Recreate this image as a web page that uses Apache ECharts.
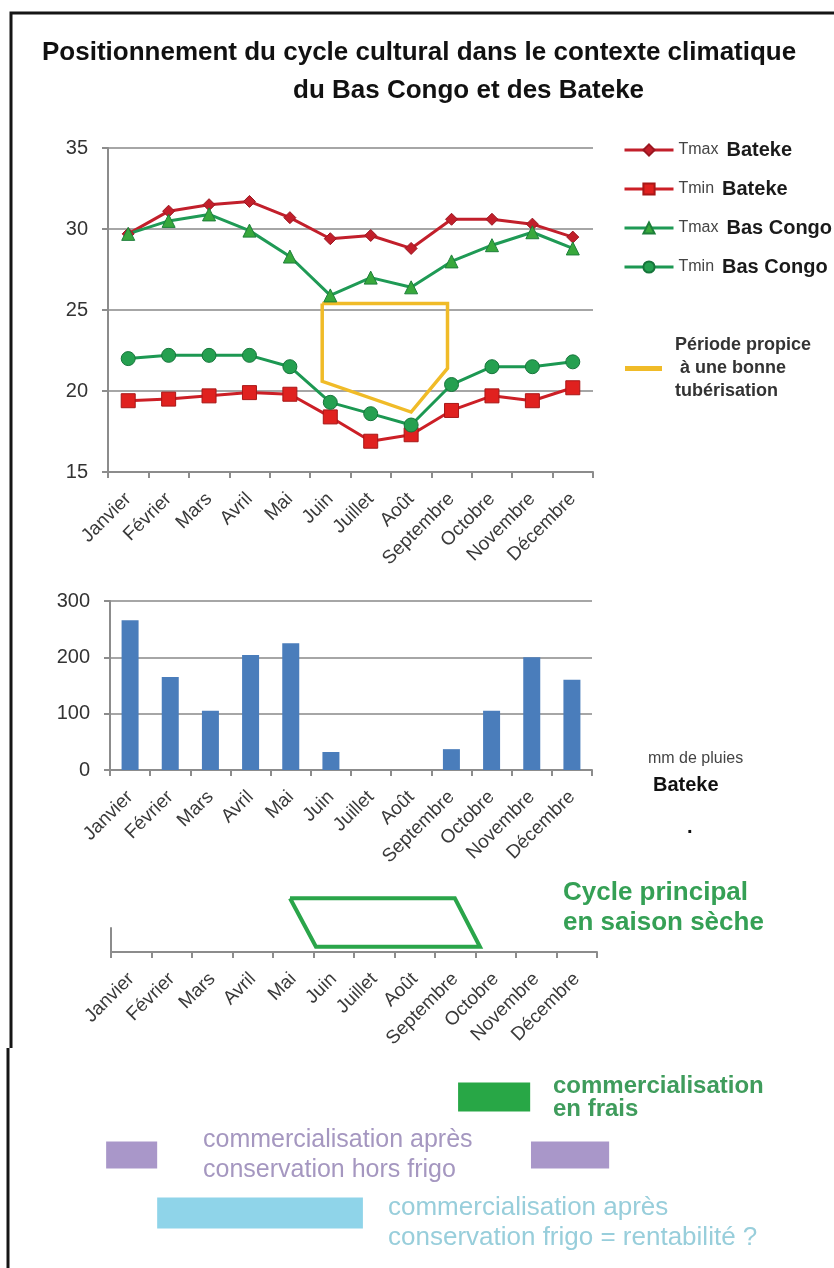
<!DOCTYPE html>
<html>
<head>
<meta charset="utf-8">
<title>Cycle cultural - Bas Congo et Bateke</title>
<script src="https://cdn.jsdelivr.net/npm/echarts@6/dist/echarts.min.js"></script>
<style>
  html, body { margin: 0; padding: 0; background: #fff; }
  #main { width: 834px; height: 1268px; }
</style>
</head>
<body>
<div id="main"></div>
<script>
// mois, axe commun aux trois graphiques
const mois = ['Janvier', 'Février', 'Mars', 'Avril', 'Mai', 'Juin', 'Juillet', 'Août', 'Septembre', 'Octobre', 'Novembre', 'Décembre'];

// températures (°C)
const tmaxBateke = [29.7, 31.1, 31.5, 31.7, 30.7, 29.4, 29.6, 28.8, 30.6, 30.6, 30.3, 29.5];
const tminBateke = [19.4, 19.5, 19.7, 19.9, 19.8, 18.4, 16.9, 17.3, 18.8, 19.7, 19.4, 20.2];
const tmaxBasCongo = [29.7, 30.5, 30.9, 29.9, 28.3, 25.9, 27.0, 26.4, 28.0, 29.0, 29.8, 28.8];
const tminBasCongo = [22.0, 22.2, 22.2, 22.2, 21.5, 19.3, 18.6, 17.9, 20.4, 21.5, 21.5, 21.8];

// période propice à la tubérisation (index de mois, °C)
const tuberX = [4.8, 7.9, 7.9, 7.0, 4.8, 4.8];
const tuberY = [25.4, 25.4, 21.4, 18.7, 20.6, 25.4];

// pluies Bateke (mm)
const pluies = [266, 165, 105, 204, 225, 32, 0, 0, 37, 105, 200, 160];

// cycle principal en saison sèche (index de mois, hauteur relative)
const cycleX = [3.92, 7.99, 8.61, 4.56, 3.92];
const cycleY = [2.24, 2.24, 0.22, 0.22, 2.24];

// commercialisation : début, fin (index de mois) et mode
const modes = ['frais', 'hors frigo', 'frigo'];
const commDebut = [8.07, -0.62, 9.87, 0.64];
const commFin = [9.85, 0.64, 11.8, 5.72];
const commMode = ['frais', 'hors frigo', 'hors frigo', 'frigo'];

const police = "'Liberation Sans', Arial, sans-serif";
const gris = '#8c8c8c';
const couleursModes = ['#28a746', '#a997c9', '#8fd4e9'];
const hauteursModes = [29, 27, 31];
const nomTuber = 'Période propice à une bonne tubérisation';

function axeMois(gridIndex) {
    return {
        type: 'category',
        gridIndex: gridIndex,
        data: mois,
        axisLine: { onZero: false, lineStyle: { color: gris, width: 2 } },
        axisTick: { show: true, length: 6, lineStyle: { color: gris, width: 2 } },
        axisLabel: {
            interval: 0,
            hideOverlap: false,
            rotate: 45,
            margin: 24,
            fontSize: 19,
            color: '#3a3a3a',
            fontFamily: police
        }
    };
}

function axeCache(gridIndex) {
    return { type: 'value', gridIndex: gridIndex, min: -0.5, max: 11.5, show: false };
}

function axeValeurs(gridIndex, min, max, interval) {
    return {
        type: 'value',
        gridIndex: gridIndex,
        min: min,
        max: max,
        interval: interval,
        axisLine: { show: true, onZero: false, lineStyle: { color: gris, width: 2 } },
        axisTick: { show: true, length: 6, lineStyle: { color: gris, width: 2 } },
        axisLabel: { fontSize: 20, margin: 20, color: '#333', fontFamily: police },
        splitLine: { lineStyle: { color: '#a6a6a6', width: 2 } }
    };
}

function serieTemp(nom, data, symbole, taille, couleurLigne, couleurPoint, bord) {
    return {
        name: nom,
        type: 'line',
        xAxisIndex: 0,
        yAxisIndex: 0,
        data: data,
        symbol: symbole,
        symbolSize: taille,
        lineStyle: { color: couleurLigne, width: 3 },
        itemStyle: { color: couleurPoint, borderColor: bord, borderWidth: 1 }
    };
}

const chart = echarts.init(document.getElementById('main'));

const option = {
    animation: false,
    backgroundColor: '#fff',
    textStyle: { fontFamily: police },
    title: [
        {
            text: 'Positionnement du cycle cultural dans le contexte climatique',
            left: 42, top: 40, padding: 0,
            textStyle: { fontSize: 26, fontWeight: 'bold', color: '#111', fontFamily: police }
        },
        {
            text: 'du Bas Congo et des Bateke',
            left: 293, top: 78, padding: 0,
            textStyle: { fontSize: 26, fontWeight: 'bold', color: '#111', fontFamily: police }
        }
    ],
    legend: [
        {
            data: ['Tmax Bateke', 'Tmin Bateke', 'Tmax Bas Congo', 'Tmin Bas Congo'],
            orient: 'vertical',
            left: 623,
            top: 140,
            padding: 0,
            itemWidth: 49,
            itemHeight: 14,
            itemGap: 19,
            selectedMode: false,
            lineStyle: { width: 3 },
            formatter: function (name) {
                const i = name.indexOf(' ');
                return '{t|' + name.slice(0, i) + '}{n|' + name.slice(i + 1) + '}';
            },
            textStyle: {
                rich: {
                    t: { fontSize: 16, color: '#444', lineHeight: 20, padding: [0, 8, 0, 0], fontFamily: police },
                    n: { fontSize: 20, fontWeight: 'bold', color: '#1a1a1a', lineHeight: 20, fontFamily: police }
                }
            }
        },
        {
            data: [{ name: nomTuber, icon: 'rect' }],
            orient: 'vertical',
            left: 625,
            top: 334,
            padding: 0,
            itemWidth: 37,
            itemHeight: 5,
            selectedMode: false,
            formatter: function () {
                return 'Période propice\n à une bonne\ntubérisation';
            },
            textStyle: {
                fontSize: 18, fontWeight: 'bold', color: '#333', lineHeight: 23,
                padding: [0, 0, 0, 8], fontFamily: police
            }
        }
    ],
    grid: [
        { left: 108, top: 148, width: 485, height: 324 },
        { left: 110, top: 601, width: 482, height: 169 },
        { left: 111, top: 928, width: 486, height: 24 },
        { left: 111, top: 1068, width: 486, height: 174 }
    ],
    xAxis: [
        axeMois(0),
        axeCache(0),
        axeMois(1),
        axeMois(2),
        axeCache(2),
        axeCache(3)
    ],
    yAxis: [
        axeValeurs(0, 15, 35, 5),
        axeValeurs(1, 0, 300, 100),
        {
            type: 'value', gridIndex: 2, min: 0, max: 1,
            axisLine: { show: true, onZero: false, lineStyle: { color: gris, width: 2 } },
            axisTick: { show: false },
            axisLabel: { show: false },
            splitLine: { show: false }
        },
        { type: 'category', gridIndex: 3, data: modes, inverse: true, show: false }
    ],
    series: [
        {
            name: nomTuber,
            type: 'line',
            xAxisIndex: 1,
            yAxisIndex: 0,
            data: tuberX.map((x, i) => [x, tuberY[i]]),
            symbol: 'none',
            lineStyle: { color: '#f0bb28', width: 3.5, join: 'miter' },
            itemStyle: { color: '#f0bb28' },
            z: 1
        },
        serieTemp('Tmax Bateke', tmaxBateke, 'diamond', 12, '#c21f2b', '#c21f2b', '#9a1620'),
        serieTemp('Tmin Bateke', tminBateke, 'rect', 14, '#cc1f26', '#e0211f', '#a81717'),
        serieTemp('Tmax Bas Congo', tmaxBasCongo, 'triangle', 13, '#1f9a55', '#38a83c', '#1d7f3a'),
        serieTemp('Tmin Bas Congo', tminBasCongo, 'circle', 14, '#1c9852', '#25a050', '#16753b'),
        {
            name: 'mm de pluies Bateke',
            type: 'bar',
            xAxisIndex: 2,
            yAxisIndex: 1,
            data: pluies,
            barWidth: 17,
            itemStyle: { color: '#4a7dbb' }
        },
        {
            name: 'Cycle principal en saison sèche',
            type: 'line',
            xAxisIndex: 4,
            yAxisIndex: 2,
            data: cycleX.map((x, i) => [x, cycleY[i]]),
            symbol: 'none',
            clip: false,
            lineStyle: { color: '#2aa54a', width: 4, join: 'miter' }
        },
        {
            name: 'commercialisation',
            type: 'custom',
            xAxisIndex: 5,
            yAxisIndex: 3,
            data: commDebut.map((d, i) => [d, commFin[i], commMode[i]]),
            encode: { x: [0, 1], y: 2 },
            renderItem: function (params, api) {
                const ligne = api.value(2);
                const p0 = api.coord([api.value(0), ligne]);
                const p1 = api.coord([api.value(1), ligne]);
                const h = hauteursModes[ligne];
                return {
                    type: 'rect',
                    shape: { x: p0[0], y: p0[1] - h / 2, width: p1[0] - p0[0], height: h },
                    style: { fill: couleursModes[ligne] }
                };
            }
        }
    ],
    graphic: [
        // cadre
        { type: 'polyline', shape: { points: [[11, 1048], [11, 13], [834, 13]] }, style: { stroke: '#151515', lineWidth: 3, fill: null } },
        { type: 'line', shape: { x1: 8, y1: 1048, x2: 8, y2: 1268 }, style: { stroke: '#151515', lineWidth: 3 } },
        // textes
        { type: 'text', left: 648, top: 751, style: { text: 'mm de pluies', font: "16px " + police, fill: '#444' } },
        { type: 'text', left: 653, top: 775, style: { text: 'Bateke', font: "bold 20px " + police, fill: '#111' } },
        { type: 'text', left: 687, top: 817, style: { text: '.', font: "bold 20px " + police, fill: '#111' } },
        { type: 'text', left: 563, top: 878, style: { text: 'Cycle principal\nen saison sèche', font: "bold 26px " + police, lineHeight: 30, fill: '#35a055' } },
        { type: 'text', left: 553, top: 1074, style: { text: 'commercialisation\nen frais', font: "bold 24px " + police, lineHeight: 23, fill: '#3f9c5c' } },
        { type: 'text', left: 203, top: 1125, style: { text: 'commercialisation après\nconservation hors frigo', font: "25px " + police, lineHeight: 30, fill: '#a597c0' } },
        { type: 'text', left: 388, top: 1193, style: { text: 'commercialisation après\nconservation frigo = rentabilité ?', font: "26px " + police, lineHeight: 30, fill: '#98cedb' } }
    ]
};

chart.setOption(option);
</script>
</body>
</html>
